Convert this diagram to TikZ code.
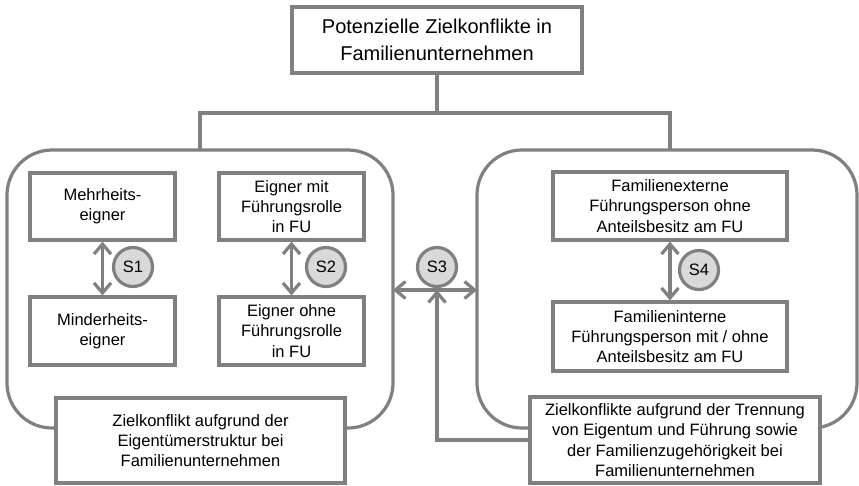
\documentclass[tikz,border=0pt]{standalone}
\usepackage{fontspec}
\setmainfont{Liberation Sans}
\usetikzlibrary{arrows.meta}
\definecolor{linegray}{HTML}{808080}
\definecolor{circfill}{HTML}{D9D9D9}
\tikzset{
  frame/.style={draw=linegray, line width=3.2pt},
  box/.style={frame, fill=white, align=center, inner sep=0pt,
    font=\fontsize{16.5}{20.3}\selectfont},
  group/.style={frame, rounded corners=45pt},
  tag/.style={frame, circle, fill=circfill, minimum size=39pt, inner sep=0pt,
    font=\fontsize{16.5}{20}\selectfont},
  link/.style={draw=linegray, line width=3.2pt},
  arr/.style={link, -{Straight Barb[length=10pt,width=17pt]}},
  dbl/.style={link, {Straight Barb[length=10pt,width=17pt]}-{Straight Barb[length=10pt,width=17pt]}},
}
\begin{document}
\begin{tikzpicture}[x=1pt,y=-1pt]
\useasboundingbox (0,0) rectangle (859,485);

% title
\node[box, minimum width=290pt, minimum height=66pt,
  font=\fontsize{20}{26.5}\selectfont] (top) at (437,40)
  {Potenzielle Zielkonflikte in\\Familienunternehmen};

% two groups
\draw[group] (7,150) rectangle (393,428);
\draw[group] (477,150) rectangle (857,428);
\coordinate (L) at (200,150);
\coordinate (R) at (670,150);
\coordinate (bar) at (437,113);
\draw[link] (top.south) -- (bar);
\draw[link] (L) |- (bar) -| (R);

% left group
\node[box, minimum width=145pt, minimum height=67pt] (maj) at (102.5,206.5) {Mehrheits-\\eigner};
\node[box, minimum width=145pt, minimum height=68pt] (mnr) at (102.5,331) {Minderheits-\\eigner};
\node[box, minimum width=145pt, minimum height=67pt] (own) at (291.5,206.5) {Eigner mit\\Führungsrolle\\in FU};
\node[box, minimum width=145pt, minimum height=68pt] (nown) at (291.5,331) {Eigner ohne\\Führungsrolle\\in FU};
\draw[dbl] (maj.south) -- (mnr.north);
\draw[dbl] (own.south) -- (nown.north);
\node[tag] (s1) at (133,267) {S1};
\node[tag] (s2) at (326,267) {S2};

% right group
\node[box, minimum width=234pt, minimum height=68pt] (ext) at (670,206) {Familienexterne\\Führungsperson ohne\\Anteilsbesitz am FU};
\node[box, minimum width=234pt, minimum height=69pt] (int) at (670,336.5) {Familieninterne\\Führungsperson mit / ohne\\Anteilsbesitz am FU};
\draw[dbl] (ext.south) -- (int.north);
\node[tag] (s4) at (699,270) {S4};

% group captions
\node[box, minimum width=289pt, minimum height=85pt] (lb) at (200.5,440.5)
  {Zielkonflikt aufgrund der\\Eigentümerstruktur bei\\Familienunternehmen};
\node[box, minimum width=290pt, minimum height=86pt] (rb) at (675,440)
  {Zielkonflikte aufgrund der Trennung\\von Eigentum und Führung sowie\\der Familienzugehörigkeit bei\\Familienunternehmen};

% conflict between the groups
\node[tag] (s3) at (437,267) {S3};
\coordinate (h) at (437,290);
\draw[dbl] (393,290) -- (477,290);
\draw[arr] (rb.west) -| (h);
\end{tikzpicture}
\end{document}
